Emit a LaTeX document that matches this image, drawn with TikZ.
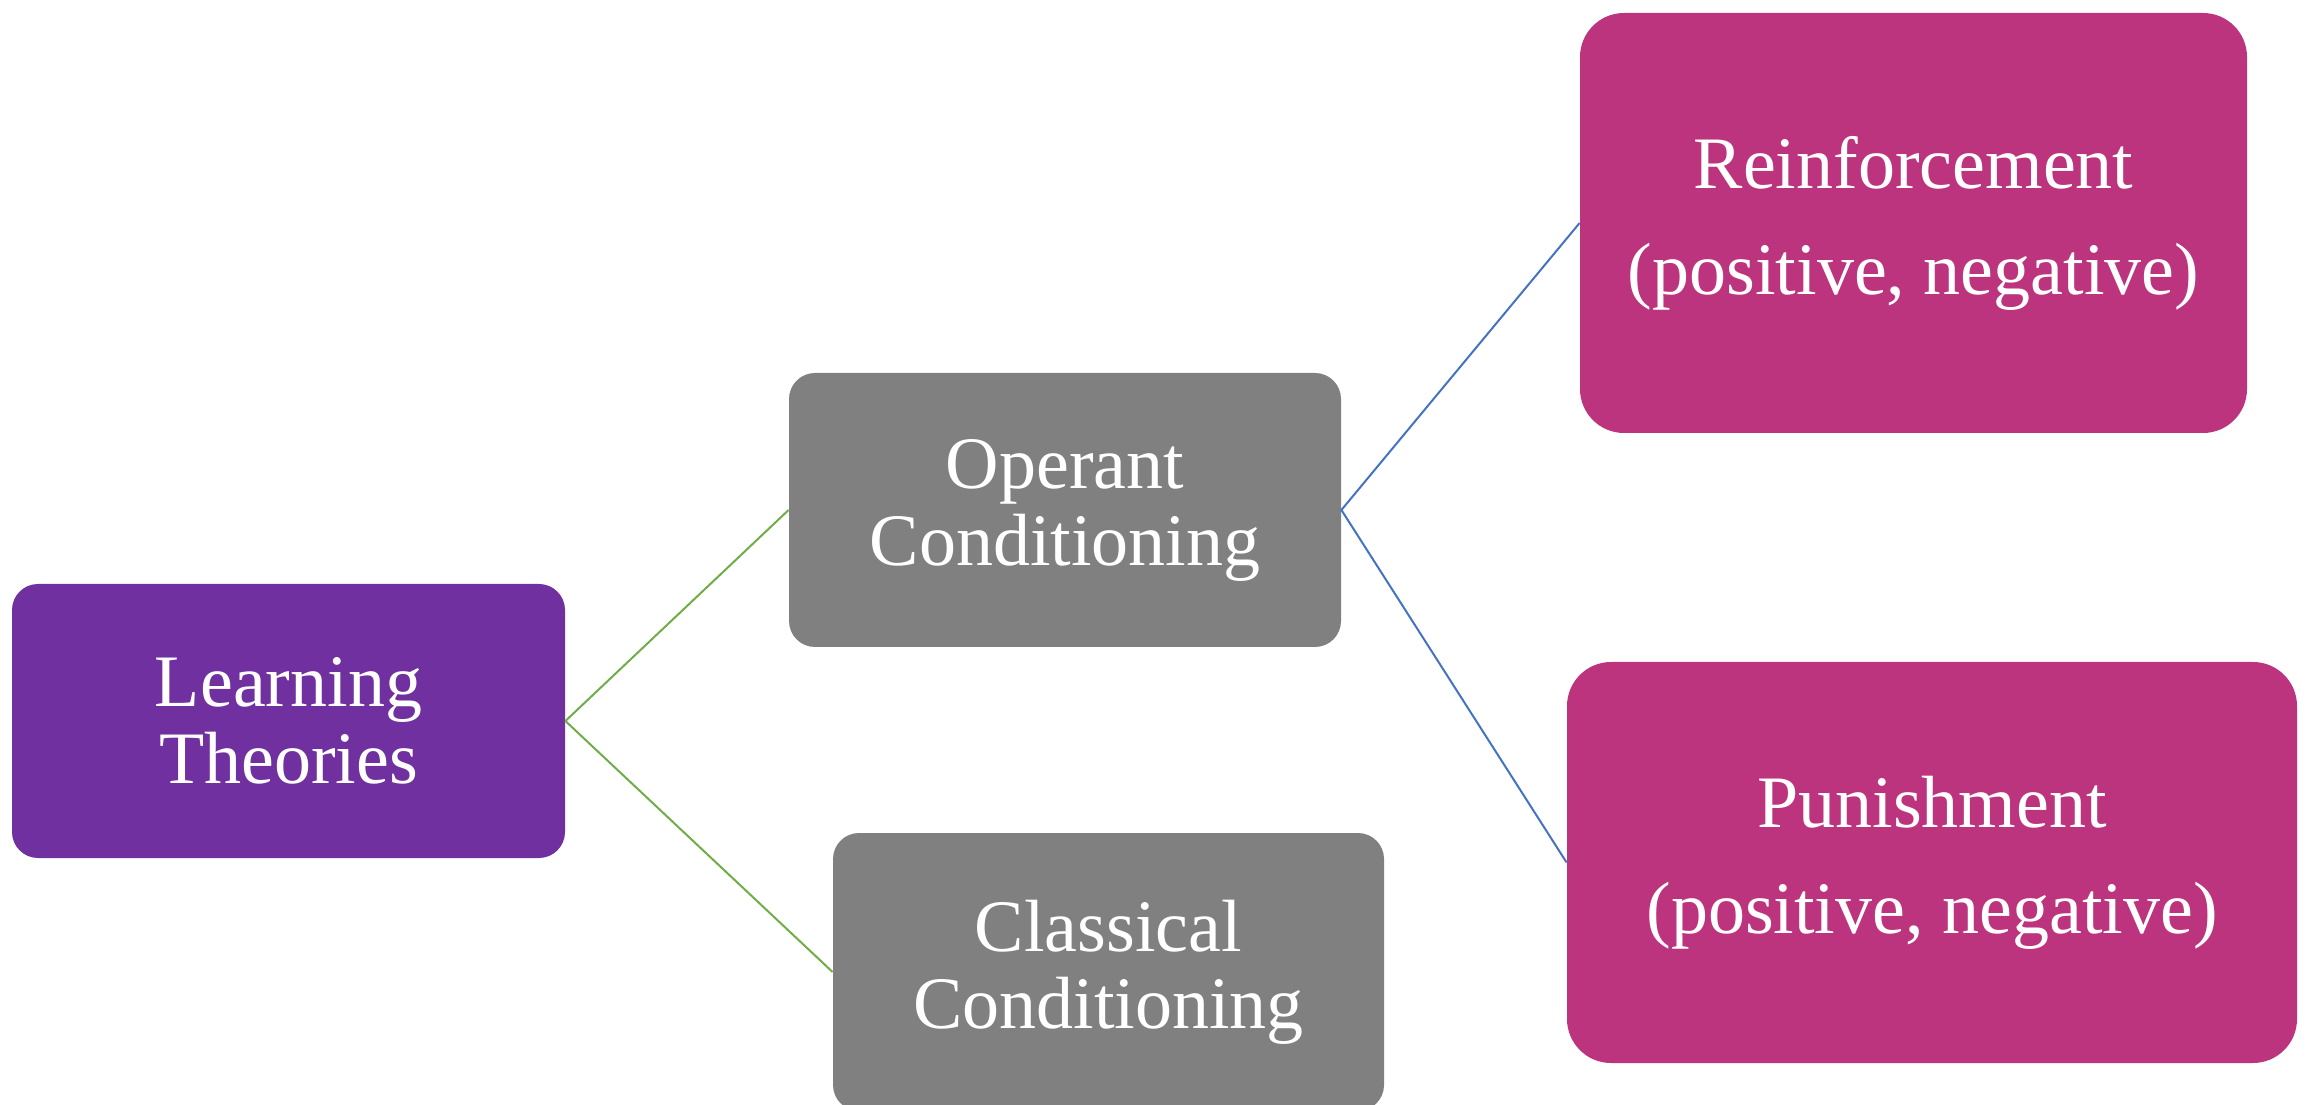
\documentclass[tikz,border=0pt]{standalone}
\usepackage{fontspec}
\setmainfont{Liberation Serif}
\usepackage{xcolor}

\definecolor{ltpurple}{RGB}{112,48,160}
\definecolor{condgray}{RGB}{128,128,128}
\definecolor{resmagenta}{RGB}{188,52,126}
\definecolor{linkgreen}{RGB}{112,173,71}
\definecolor{linkblue}{RGB}{68,114,196}

\begin{document}
\begin{tikzpicture}[
		box/.style = {rectangle, inner sep = 0pt, align = center, text = white,
			rounded corners = 13pt, font = \fontsize{37}{38.5}\selectfont},
		resbox/.style = {box, fill = resmagenta, rounded corners = 22pt,
			font = \fontsize{37}{53}\selectfont},
		link/.style = {line width = 1pt}
	]
		\def\bw{276pt};
		\def\bh{137pt};

		\useasboundingbox (0,0) rectangle (1153.5pt,552pt);

		% root and the two kinds of conditioning
		\node[box, fill = ltpurple, minimum width = 276.5pt, minimum height = \bh] (learn) at (144.25pt,191.5pt) {Learning\\Theories};
		\node[box, fill = condgray, minimum width = \bw, minimum height = \bh] (operant) at (532.5pt,297pt) {Operant\\Conditioning};
		\node[box, fill = condgray, minimum width = 275.5pt, minimum height = 139pt] (classic) at (554.25pt,66pt) {Classical\\Conditioning};

		% consequences
		\node[resbox, minimum width = 333.5pt, minimum height = 210pt] (reinf) at (956.75pt,440.5pt) {Reinforcement\\(positive, negative)};
		\node[resbox, minimum width = 365pt, minimum height = 200.5pt] (punish) at (966pt,120.75pt) {Punishment\\(positive, negative)};

		\begin{scope}[link, linkgreen]
			\draw (learn.east) -- (operant.west);
			\draw (learn.east) -- (classic.west);
		\end{scope}

		\begin{scope}[link, linkblue]
			\draw (operant.east) -- (reinf.west);
			\draw (operant.east) -- (punish.west);
		\end{scope}
	\end{tikzpicture}
\end{document}
